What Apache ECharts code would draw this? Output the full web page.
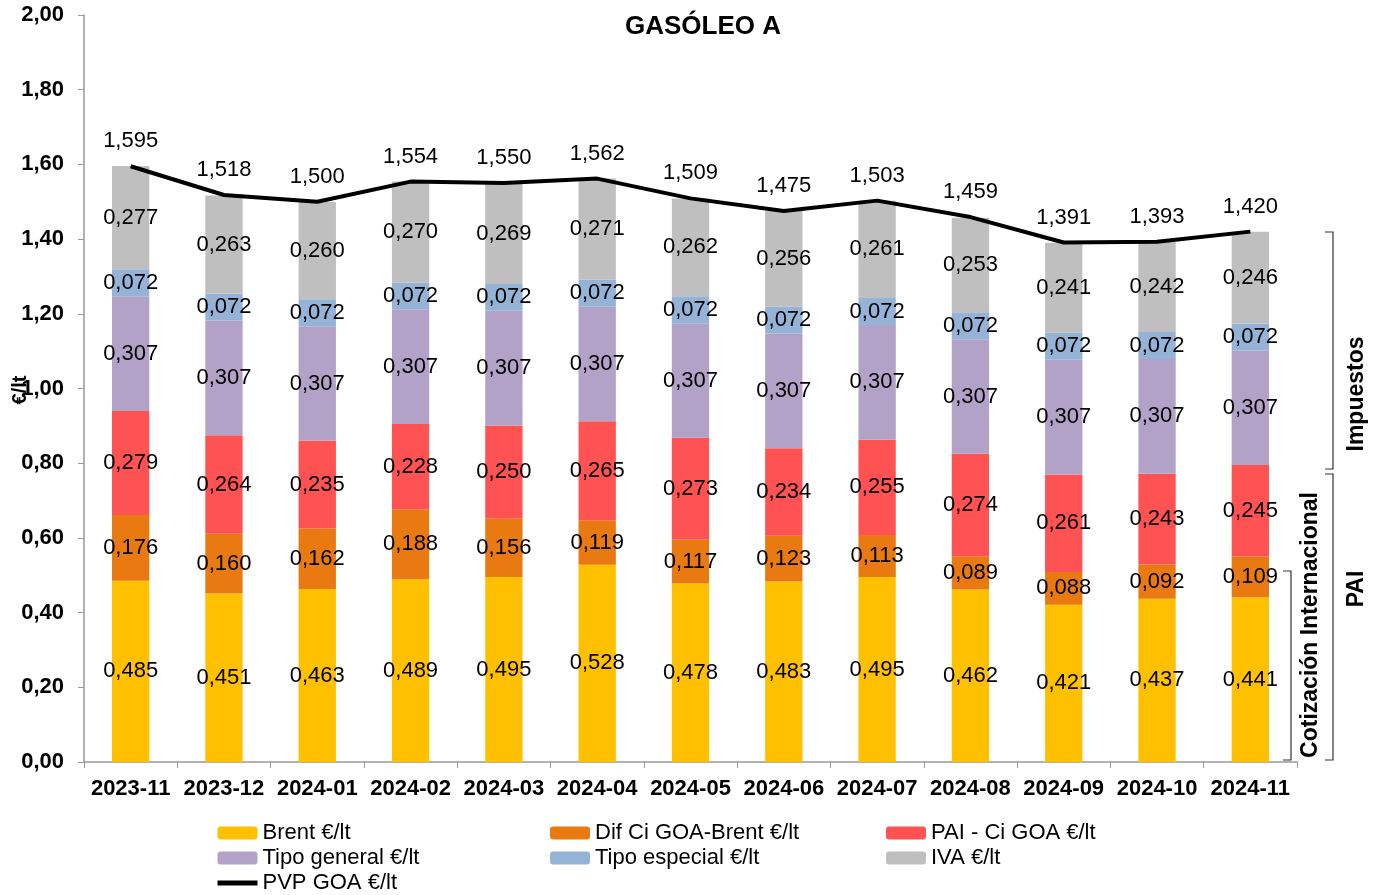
<!DOCTYPE html>
<html>
<head>
<meta charset="utf-8">
<script src="https://cdn.jsdelivr.net/npm/echarts@6/dist/echarts.min.js"></script>
<style>
  html, body { margin: 0; padding: 0; background: #fff; }
  #chart { width: 1381px; height: 895px; }
</style>
</head>
<body>
<div id="chart"></div>
<script>
// meses
const months = ['2023-11', '2023-12', '2024-01', '2024-02', '2024-03', '2024-04', '2024-05',
  '2024-06', '2024-07', '2024-08', '2024-09', '2024-10', '2024-11'];

// componentes del precio (€/lt)
const brent = [0.485, 0.451, 0.463, 0.489, 0.495, 0.528, 0.478, 0.483, 0.495, 0.462, 0.421, 0.437, 0.441];
const difCi = [0.176, 0.160, 0.162, 0.188, 0.156, 0.119, 0.117, 0.123, 0.113, 0.089, 0.088, 0.092, 0.109];
const paiCi = [0.279, 0.264, 0.235, 0.228, 0.250, 0.265, 0.273, 0.234, 0.255, 0.274, 0.261, 0.243, 0.245];
const tipoGeneral = [0.307, 0.307, 0.307, 0.307, 0.307, 0.307, 0.307, 0.307, 0.307, 0.307, 0.307, 0.307, 0.307];
const tipoEspecial = [0.072, 0.072, 0.072, 0.072, 0.072, 0.072, 0.072, 0.072, 0.072, 0.072, 0.072, 0.072, 0.072];
const iva = [0.277, 0.263, 0.260, 0.270, 0.269, 0.271, 0.262, 0.256, 0.261, 0.253, 0.241, 0.242, 0.246];
// precio de venta
const pvp = [1.595, 1.518, 1.500, 1.554, 1.550, 1.562, 1.509, 1.475, 1.503, 1.459, 1.391, 1.393, 1.420];

const FONT = 'Liberation Sans, Arial, sans-serif';
const fmt3 = (v) => v.toFixed(3).replace('.', ',');

function barSerie(name, data, color) {
  return {
    name: name,
    type: 'bar',
    stack: 'total',
    barWidth: '40%',
    data: data,
    itemStyle: { color: color },
    emphasis: { disabled: true },
    label: {
      show: true,
      position: 'inside',
      color: '#000',
      fontFamily: FONT,
      fontSize: 22,
      formatter: (p) => fmt3(p.value)
    }
  };
}

function rotText(x, y, text) {
  return {
    type: 'text', x: x, y: y, rotation: Math.PI / 2,
    style: { text: text, font: 'bold 23px ' + FONT, fill: '#000', textAlign: 'center', textVerticalAlign: 'middle' }
  };
}

const chart = echarts.init(document.getElementById('chart'));

const legendText = { fontFamily: FONT, fontSize: 22, color: '#000' };
const legendBase = {
  orient: 'vertical', top: 822, itemGap: 3, padding: 0,
  itemWidth: 40, itemHeight: 13, textStyle: legendText
};

chart.setOption({
  animation: false,
  title: {
    text: 'GASÓLEO A',
    left: 698,
    textAlign: 'center',
    top: 9,
    textStyle: { fontFamily: FONT, fontSize: 26, fontWeight: 'bold', color: '#000' }
  },
  legend: [
    Object.assign({}, legendBase, {
      left: 215,
      data: ['Brent €/lt', 'Tipo general €/lt',
        { name: 'PVP GOA €/lt', itemStyle: { opacity: 0 }, lineStyle: { width: 5 } }]
    }),
    Object.assign({}, legendBase, {
      left: 550,
      data: ['Dif Ci GOA-Brent €/lt', 'Tipo especial €/lt']
    }),
    Object.assign({}, legendBase, {
      left: 886,
      data: ['PAI - Ci GOA €/lt', 'IVA €/lt']
    })
  ],
  grid: { left: 84, right: 84, top: 15, bottom: 133, outerBoundsMode: 'none' },
  xAxis: {
    type: 'category',
    data: months,
    axisLine: { lineStyle: { color: '#999', width: 1.5 } },
    axisTick: { show: true, length: 6, lineStyle: { color: '#999' } },
    axisLabel: { interval: 0, color: '#000', fontFamily: FONT, fontSize: 22, fontWeight: 'bold', margin: 16 }
  },
  yAxis: {
    type: 'value',
    min: 0,
    max: 2,
    interval: 0.2,
    splitLine: { show: false },
    axisLine: { show: true, lineStyle: { color: '#999', width: 1.5 } },
    axisTick: { show: true, length: 6, lineStyle: { color: '#999' } },
    axisLabel: {
      color: '#000', fontFamily: FONT, fontSize: 22, fontWeight: 'bold', margin: 20,
      formatter: (v) => v.toFixed(2).replace('.', ',')
    }
  },
  series: [
    barSerie('Brent €/lt', brent, '#FFC000'),
    barSerie('Dif Ci GOA-Brent €/lt', difCi, '#E97A12'),
    barSerie('PAI - Ci GOA €/lt', paiCi, '#FF5252'),
    barSerie('Tipo general €/lt', tipoGeneral, '#B3A2C7'),
    barSerie('Tipo especial €/lt', tipoEspecial, '#95B3D7'),
    barSerie('IVA €/lt', iva, '#BFBFBF'),
    {
      name: 'PVP GOA €/lt',
      type: 'line',
      data: pvp,
      symbol: 'circle',
      symbolSize: 0,
      itemStyle: { color: '#000' },
      lineStyle: { color: '#000', width: 4 },
      emphasis: { disabled: true },
      label: {
        show: true,
        position: 'top',
        distance: 14,
        color: '#000',
        fontFamily: FONT,
        fontSize: 22,
        formatter: (p) => fmt3(p.value)
      }
    }
  ],
  graphic: [
    // nombre del eje Y
    {
      type: 'text', x: 20, y: 390, rotation: Math.PI / 2,
      style: { text: '€/lt', font: 'bold 20px ' + FONT, fill: '#000', textAlign: 'center', textVerticalAlign: 'middle' }
    },
    // Impuestos
    { type: 'polyline', shape: { points: [[1325, 232], [1333, 232], [1333, 469], [1325, 469]] },
      style: { stroke: '#333', lineWidth: 1.2, fill: null } },
    rotText(1357, 394, 'Impuestos'),
    // PAI
    { type: 'polyline', shape: { points: [[1325, 474], [1333, 474], [1333, 760], [1325, 760]] },
      style: { stroke: '#333', lineWidth: 1.2, fill: null } },
    rotText(1357, 589, 'PAI'),
    // Cotización Internacional
    { type: 'polyline', shape: { points: [[1283, 571], [1291, 571], [1291, 760], [1283, 760]] },
      style: { stroke: '#333', lineWidth: 1.2, fill: null } },
    rotText(1311, 625, 'Cotización Internacional')
  ]
});
</script>
</body>
</html>
